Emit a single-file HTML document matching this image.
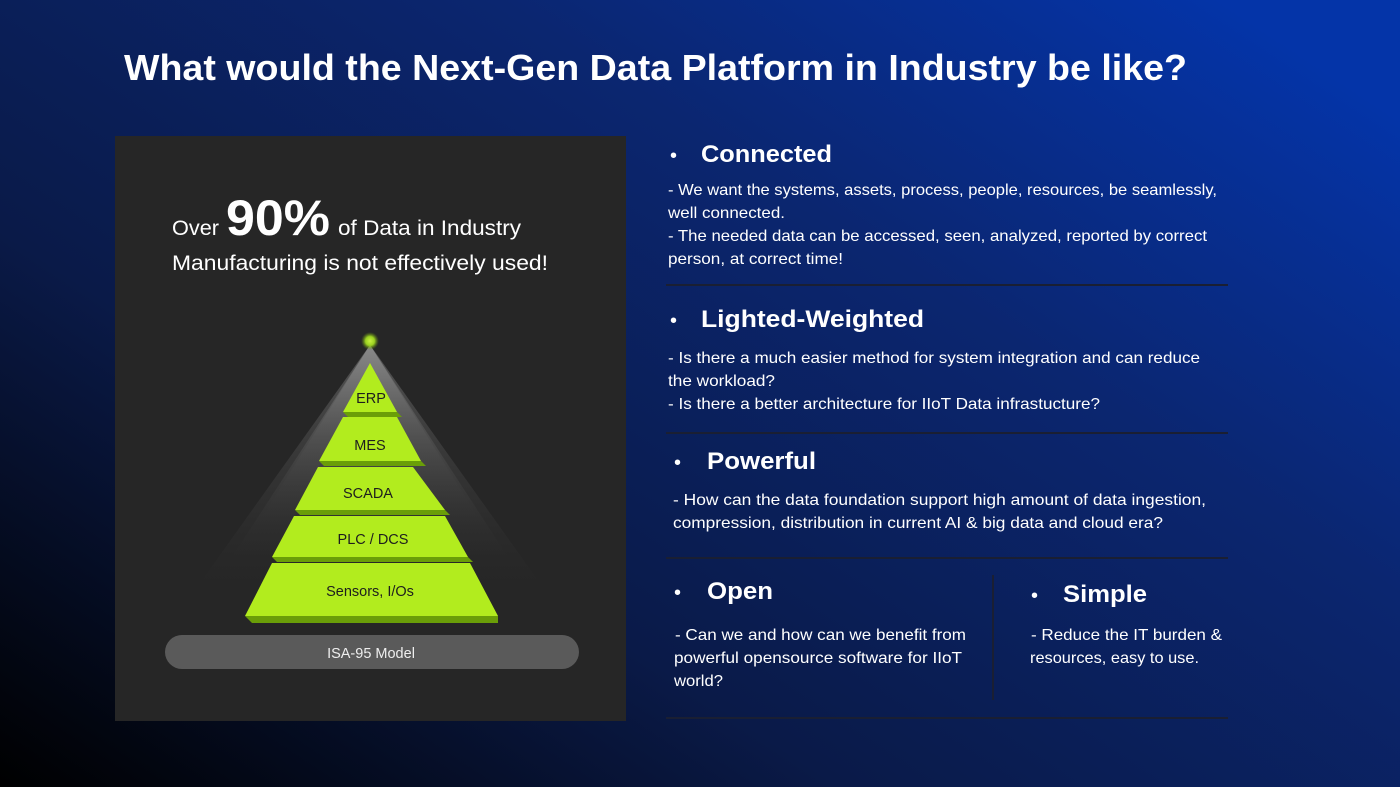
<!DOCTYPE html>
<html><head><meta charset="utf-8"><style>
html,body{margin:0;padding:0;width:1400px;height:787px;overflow:hidden;background:#0a1f5a}
svg{display:block}
text{font-family:"Liberation Sans",sans-serif}
</style></head><body>
<svg width="1400" height="787" viewBox="0 0 1400 787" xmlns="http://www.w3.org/2000/svg">
<defs>
<linearGradient id="bg" x1="0" y1="1" x2="1" y2="0.15">
<stop offset="0" stop-color="#000000"/>
<stop offset="0.35" stop-color="#0a1a48"/>
<stop offset="0.7" stop-color="#0b2670"/>
<stop offset="1" stop-color="#0434a8"/>
</linearGradient>
<linearGradient id="halo" x1="0" y1="0" x2="0" y2="1">
<stop offset="0" stop-color="#9a9a9a" stop-opacity="0.95"/>
<stop offset="0.6" stop-color="#555" stop-opacity="0.5"/>
<stop offset="1" stop-color="#3a3a3a" stop-opacity="0"/>
</linearGradient>
<radialGradient id="glow"><stop offset="0" stop-color="#c8f040"/><stop offset="0.5" stop-color="#9ad020"/><stop offset="1" stop-color="#5a8010" stop-opacity="0"/></radialGradient>
</defs>
<rect width="1400" height="787" fill="url(#bg)"/>
<text x="124" y="80" font-size="36" font-weight="bold" fill="#fff" textLength="1063" lengthAdjust="spacingAndGlyphs">What would the Next-Gen Data Platform in Industry be like?</text>

<rect x="115" y="136" width="511" height="585" fill="#262626"/>
<text x="172" y="235" font-size="21" fill="#fff" textLength="47" lengthAdjust="spacingAndGlyphs">Over</text>
<text x="226" y="235" font-size="50" font-weight="bold" fill="#fff" textLength="104" lengthAdjust="spacingAndGlyphs">90%</text>
<text x="338" y="235" font-size="21" fill="#fff" textLength="183" lengthAdjust="spacingAndGlyphs">of Data in Industry</text>
<text x="172" y="270" font-size="21" fill="#fff" textLength="376" lengthAdjust="spacingAndGlyphs">Manufacturing is not effectively used!</text>

<polygon points="370,345 195,590 545,590" fill="url(#halo)" opacity="0.45"/>
<polygon points="370,345 230,560 510,560" fill="url(#halo)" opacity="0.55"/>
<polygon points="370,345 260,520 480,520" fill="url(#halo)" opacity="0.5"/>
<circle cx="370" cy="341" r="9" fill="url(#glow)"/>
<g fill="#6a9e08">
<polygon points="343,412 397,412 402,417 348,417"/>
<polygon points="319,461 421,461 426,466 324,466"/>
<polygon points="295,510 445,510 450,515 300,515"/>
<polygon points="272,557 468,557 473,562 277,562"/>
<polygon points="245,616 498,616 498,623 252,623"/>
</g>
<g fill="#b2ec1e">
<polygon points="370,363 397,412 343,412"/>
<polygon points="343,417 397,417 421,461 319,461"/>
<polygon points="318,467 413,467 445,510 295,510"/>
<polygon points="294,516 445,516 468,557 272,557"/>
<polygon points="272,563 470,563 498,616 245,616"/>
</g>
<g font-size="14.5" fill="#1e1e1e" text-anchor="middle">
<text x="371" y="403">ERP</text>
<text x="370" y="450">MES</text>
<text x="368" y="498">SCADA</text>
<text x="373" y="544">PLC / DCS</text>
<text x="370" y="596">Sensors, I/Os</text>
</g>
<rect x="165" y="635" width="414" height="34" rx="17" fill="#5a5a5a"/>
<text x="371" y="658" font-size="14.5" fill="#eee" text-anchor="middle">ISA-95 Model</text>

<g fill="#fff">
<text x="670" y="162" font-size="20">•</text>
<text x="701" y="162" font-size="24" font-weight="bold" textLength="131" lengthAdjust="spacingAndGlyphs">Connected</text>
<g font-size="16">
<text x="668" y="195" textLength="549" lengthAdjust="spacingAndGlyphs">- We want the systems, assets, process, people, resources, be seamlessly,</text>
<text x="668" y="218" textLength="117" lengthAdjust="spacingAndGlyphs">well connected.</text>
<text x="668" y="241" textLength="539" lengthAdjust="spacingAndGlyphs">- The needed data can be accessed, seen, analyzed, reported by correct</text>
<text x="668" y="264" textLength="175" lengthAdjust="spacingAndGlyphs">person, at correct time!</text>
</g>
<text x="670" y="327" font-size="20">•</text>
<text x="701" y="327" font-size="24" font-weight="bold" textLength="223" lengthAdjust="spacingAndGlyphs">Lighted-Weighted</text>
<g font-size="16">
<text x="668" y="363" textLength="532" lengthAdjust="spacingAndGlyphs">- Is there a much easier method for system integration and can reduce</text>
<text x="668" y="386" textLength="107" lengthAdjust="spacingAndGlyphs">the workload?</text>
<text x="668" y="409" textLength="432" lengthAdjust="spacingAndGlyphs">- Is there a better architecture for IIoT Data infrastucture?</text>
</g>
<text x="674" y="469" font-size="20">•</text>
<text x="707" y="469" font-size="24" font-weight="bold" textLength="109" lengthAdjust="spacingAndGlyphs">Powerful</text>
<g font-size="16">
<text x="673" y="505" textLength="533" lengthAdjust="spacingAndGlyphs">- How can the data foundation support high amount of data ingestion,</text>
<text x="673" y="528" textLength="490" lengthAdjust="spacingAndGlyphs">compression, distribution in current AI &amp; big data and cloud era?</text>
</g>
<text x="674" y="599" font-size="20">•</text>
<text x="707" y="599" font-size="24" font-weight="bold" textLength="66" lengthAdjust="spacingAndGlyphs">Open</text>
<g font-size="16">
<text x="675" y="640" textLength="291" lengthAdjust="spacingAndGlyphs">- Can we and how can we benefit from</text>
<text x="674" y="663" textLength="288" lengthAdjust="spacingAndGlyphs">powerful opensource software for IIoT</text>
<text x="674" y="686" textLength="49" lengthAdjust="spacingAndGlyphs">world?</text>
</g>
<text x="1031" y="602" font-size="20">•</text>
<text x="1063" y="602" font-size="24" font-weight="bold" textLength="84" lengthAdjust="spacingAndGlyphs">Simple</text>
<g font-size="16">
<text x="1031" y="640" textLength="191" lengthAdjust="spacingAndGlyphs">- Reduce the IT burden &amp;</text>
<text x="1030" y="663" textLength="169" lengthAdjust="spacingAndGlyphs">resources, easy to use.</text>
</g>
</g>
<g stroke="#1a1f33" stroke-width="2">
<line x1="666" y1="285" x2="1228" y2="285"/>
<line x1="666" y1="433" x2="1228" y2="433"/>
<line x1="666" y1="558" x2="1228" y2="558"/>
<line x1="666" y1="718" x2="1228" y2="718"/>
<line x1="993" y1="575" x2="993" y2="700"/>
</g>
</svg>
</body></html>
